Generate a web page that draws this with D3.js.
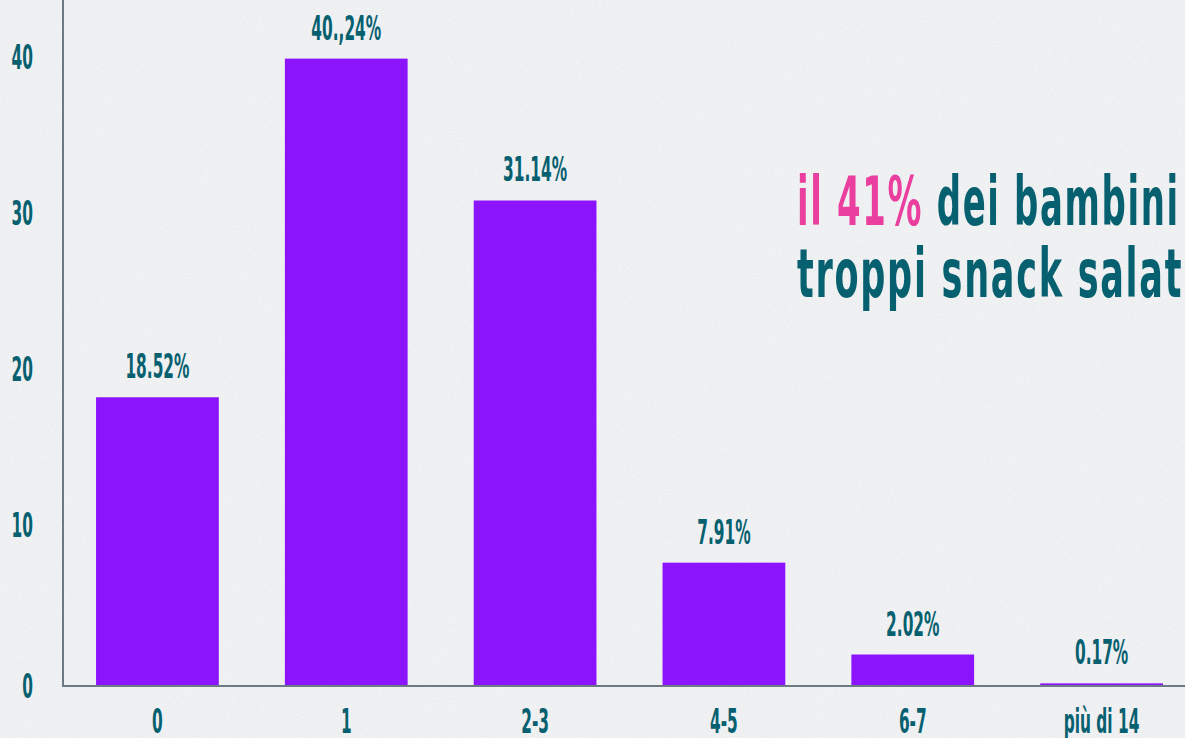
<!DOCTYPE html>
<html>
<head>
<meta charset="utf-8">
<script src="https://cdn.jsdelivr.net/npm/d3@7"></script>
<style>
  html, body { margin: 0; padding: 0; background: #eff0f2; overflow: hidden; }
  svg { display: block; }
  .lbl { font-family: "Liberation Sans Narrow", "DejaVu Sans Condensed", "Liberation Sans", sans-serif; font-weight: bold; fill: #07606f; }
</style>
</head>
<body>
<svg id="chart"></svg>
<script>
// Numero di snack salati a settimana — bar chart (D3 v7)

const categories = ["0", "1", "2-3", "4-5", "6-7", "più di 14"];
const values = [18.52, 40.24, 31.14, 7.91, 2.02, 0.17];
const valueLabels = ["18.52%", "40.,24%", "31.14%", "7.91%", "2.02%", "0.17%"];
const yTicks = [0, 10, 20, 30, 40];
const titleLines = [
  [{ t: "il 41%", hl: true }, { t: " dei bambini", hl: false }],
  [{ t: "troppi snack salati", hl: false }],
];
const titleWidths = [383, 400];   // widths of each title line in the picture

const W = 1185, H = 738;
const BAR = "#8c14fc", TEAL = "#07606f", PINK = "#ea3f9f", AXIS = "#6e7a83";

const svg = d3.select("#chart").attr("width", W).attr("height", H);

// paper texture
const defs = svg.append("defs");
const f = defs.append("filter").attr("id", "grain").attr("x", 0).attr("y", 0)
  .attr("width", "100%").attr("height", "100%");
f.append("feTurbulence").attr("type", "fractalNoise").attr("baseFrequency", 0.9)
  .attr("numOctaves", 2).attr("seed", 3).attr("result", "n");
f.append("feColorMatrix").attr("type", "matrix")
  .attr("values", "0 0 0 0 0.55  0 0 0 0 0.56  0 0 0 0 0.58  0 0 0 -1.6 1.0");
svg.append("rect").attr("width", W).attr("height", H).attr("fill", "#f1f2f4");
svg.append("rect").attr("width", W).attr("height", H).attr("filter", "url(#grain)").attr("opacity", 0.22);

const x = d3.scaleBand().domain(categories).range([63, 1196]).paddingInner(0.35).paddingOuter(0.175);
const y = d3.scaleLinear().domain([0, 44]).range([686, 0]);

// condensed look: squeeze generic fonts horizontally to a measured width
function squeeze(size, sample, target) {
  const probe = svg.append("text").attr("class", "lbl").style("font-size", size + "px").text(sample);
  const k = target / probe.node().getComputedTextLength();
  probe.remove();
  return k;
}
const LS = 33;
const k = squeeze(LS, "18.52%", 64);

function label(g, tx, ty, txt, anchor) {
  g.append("text").attr("class", "lbl")
    .attr("transform", `translate(${tx},${ty}) scale(${k},1)`)
    .attr("text-anchor", anchor)
    .style("font-size", LS + "px")
    .text(txt);
}

// bars
svg.append("g").selectAll("rect").data(values).join("rect")
  .attr("x", (d, i) => x(categories[i]))
  .attr("width", x.bandwidth())
  .attr("y", (d) => y(d))
  .attr("height", (d) => y(0) - y(d))
  .attr("fill", BAR);

// axes lines
svg.append("line").attr("x1", 63).attr("x2", 63).attr("y1", 0).attr("y2", y(0) + 1)
  .attr("stroke", AXIS).attr("stroke-width", 2);
svg.append("line").attr("x1", 62).attr("x2", W).attr("y1", y(0)).attr("y2", y(0))
  .attr("stroke", AXIS).attr("stroke-width", 2);

// y tick labels
const gy = svg.append("g");
yTicks.forEach((t) => label(gy, 33, y(t) + 7 + (t === 0 ? 5 : 0), String(t), "end"));

// category labels
const gx = svg.append("g");
categories.forEach((c) => label(gx, x(c) + x.bandwidth() / 2, 733, c, "middle"));

// value labels
const gv = svg.append("g");
values.forEach((v, i) => label(gv, x(categories[i]) + x.bandwidth() / 2, y(v) - 19, valueLabels[i], "middle"));

// title
const TS = 68;
const gt = svg.append("g");
titleLines.forEach((line, li) => {
  const t = gt.append("text").attr("class", "lbl")
    .style("font-size", TS + "px").style("letter-spacing", "3px");
  line.forEach((s) => t.append("tspan").attr("fill", s.hl ? PINK : TEAL).text(s.t));
  const kt = titleWidths[li] / t.node().getComputedTextLength();
  t.attr("transform", `translate(797,${225 + li * 72}) scale(${kt},1)`);
});
</script>
</body>
</html>
